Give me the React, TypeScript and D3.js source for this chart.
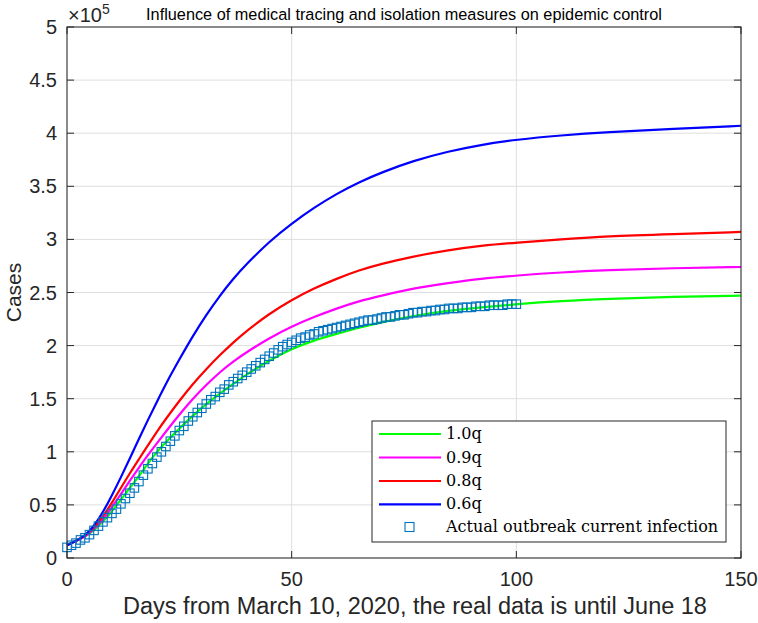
import React from "react";
import * as d3 from "d3";

// ---- Data (cases in units of 1e5) ----
const seriesNames = ["1.0q", "0.9q", "0.8q", "0.6q"];
const seriesColors = ["#00ff00", "#ff00ff", "#ff0000", "#0000ff"];

const modelDays = [0, 2, 4, 6, 8, 10, 12, 14, 16, 18, 20, 22, 25, 28, 31, 34, 37, 40, 45, 50, 55, 60, 65, 70, 77, 85, 92, 100, 110, 120, 135, 150];
const green = [0.12, 0.16, 0.20, 0.26, 0.34, 0.44, 0.55, 0.66, 0.77, 0.89, 1.00, 1.09, 1.22, 1.34, 1.45, 1.55, 1.64, 1.73, 1.86, 1.97, 2.05, 2.11, 2.17, 2.22, 2.28, 2.33, 2.36, 2.39, 2.42, 2.44, 2.46, 2.47];
const magenta = [0.12, 0.16, 0.20, 0.27, 0.36, 0.48, 0.60, 0.73, 0.85, 0.97, 1.08, 1.19, 1.35, 1.50, 1.63, 1.75, 1.85, 1.94, 2.07, 2.18, 2.27, 2.35, 2.42, 2.47, 2.54, 2.59, 2.63, 2.66, 2.69, 2.71, 2.73, 2.74];
const red = [0.12, 0.16, 0.21, 0.28, 0.39, 0.52, 0.66, 0.80, 0.93, 1.06, 1.19, 1.31, 1.48, 1.64, 1.78, 1.91, 2.03, 2.14, 2.30, 2.43, 2.54, 2.63, 2.71, 2.77, 2.84, 2.90, 2.94, 2.97, 3.00, 3.03, 3.05, 3.07];
const blue = [0.12, 0.16, 0.21, 0.30, 0.43, 0.59, 0.76, 0.94, 1.12, 1.30, 1.47, 1.64, 1.87, 2.09, 2.29, 2.47, 2.63, 2.77, 2.98, 3.15, 3.30, 3.43, 3.54, 3.63, 3.74, 3.83, 3.89, 3.94, 3.98, 4.01, 4.04, 4.07];

// actual observations, one per day from day 0 to day 100
const actual = [
  0.10, 0.12, 0.14, 0.17, 0.19, 0.22, 0.26, 0.30, 0.34, 0.38,
  0.42, 0.46, 0.51, 0.56, 0.61, 0.66, 0.72, 0.78, 0.84, 0.89,
  0.95, 1.00, 1.05, 1.10, 1.15, 1.20, 1.24, 1.29, 1.33, 1.37,
  1.41, 1.45, 1.49, 1.52, 1.56, 1.59, 1.63, 1.66, 1.69, 1.72,
  1.75, 1.78, 1.81, 1.84, 1.87, 1.90, 1.93, 1.96, 1.99, 2.01,
  2.03, 2.05, 2.07, 2.08, 2.10, 2.11, 2.13, 2.14, 2.15, 2.16,
  2.17, 2.18, 2.19, 2.20, 2.21, 2.22, 2.23, 2.24, 2.24, 2.25,
  2.26, 2.27, 2.27, 2.28, 2.29, 2.29, 2.30, 2.31, 2.31, 2.32,
  2.32, 2.33, 2.33, 2.34, 2.34, 2.35, 2.35, 2.35, 2.36, 2.36,
  2.36, 2.37, 2.37, 2.37, 2.38, 2.38, 2.38, 2.38, 2.39, 2.39,
  2.39,
];

const xTicks = [0, 50, 100, 150];
const yTicks = [0, 0.5, 1, 1.5, 2, 2.5, 3, 3.5, 4, 4.5, 5];

const titleText = "Influence of medical tracing and isolation measures on epidemic control";
const xLabel = "Days from March 10, 2020, the real data is until June 18";
const yLabel = "Cases";
const actualLabel = "Actual outbreak current infection";

export default function App() {
  const W = 758, H = 623;
  const L = 67, R = 741, T = 27, B = 558;
  const x = d3.scaleLinear().domain([0, 150]).range([L, R]);
  const y = d3.scaleLinear().domain([0, 5]).range([B, T]);
  const sans = "'Liberation Sans', Arial, Helvetica, sans-serif";
  const serif = "'DejaVu Serif', 'Liberation Serif', serif";
  const axisColor = "#262626";

  const series = [green, magenta, red, blue];
  const line = d3
    .line<[number, number]>()
    .x((d) => x(d[0]))
    .y((d) => y(d[1]))
    .curve(d3.curveBasis);

  const ms = 8.5;
  const tick = 7;
  const legX = 372, legY = 421, legW = 354, legH = 121;
  const rowY = [434, 457.5, 481, 504.3, 527];

  return (
    <svg width={W} height={H} style={{ position: "absolute", left: 0, top: 0, background: "#fff" }}>
      <rect x={0} y={0} width={W} height={H} fill="#fff" />
      {/* grid */}
      {xTicks.map((t) => (
        <line key={"gx" + t} x1={x(t)} x2={x(t)} y1={T} y2={B} stroke="#dfdfdf" strokeWidth={1} />
      ))}
      {yTicks.map((t) => (
        <line key={"gy" + t} x1={L} x2={R} y1={y(t)} y2={y(t)} stroke="#dfdfdf" strokeWidth={1} />
      ))}
      {/* curves */}
      {series.map((vals, i) => (
        <path
          key={"s" + i}
          d={line(modelDays.map((d, j) => [d, vals[j]] as [number, number])) || ""}
          fill="none"
          stroke={seriesColors[i]}
          strokeWidth={2.2}
        />
      ))}
      {/* actual data markers */}
      {actual.map((v, i) => (
        <rect
          key={"a" + i}
          x={x(i) - ms / 2}
          y={y(v) - ms / 2}
          width={ms}
          height={ms}
          fill="none"
          stroke="#0072BD"
          strokeWidth={1.1}
        />
      ))}
      {/* axes box */}
      <rect x={L} y={T} width={R - L} height={B - T} fill="none" stroke={axisColor} strokeWidth={1} />
      {xTicks.map((t) => (
        <g key={"tx" + t}>
          <line x1={x(t)} x2={x(t)} y1={B} y2={B - tick} stroke={axisColor} />
          <line x1={x(t)} x2={x(t)} y1={T} y2={T + tick} stroke={axisColor} />
          <text x={x(t)} y={586} textAnchor="middle" fontFamily={sans} fontSize={20} fill={axisColor}>
            {t}
          </text>
        </g>
      ))}
      {yTicks.map((t) => (
        <g key={"ty" + t}>
          <line x1={L} x2={L + tick} y1={y(t)} y2={y(t)} stroke={axisColor} />
          <line x1={R} x2={R - tick} y1={y(t)} y2={y(t)} stroke={axisColor} />
          <text x={57} y={y(t) + 7} textAnchor="end" fontFamily={sans} fontSize={20} fill={axisColor}>
            {t}
          </text>
        </g>
      ))}
      {/* exponent */}
      <text x={68} y={22} fontFamily={sans} fontSize={20} fill={axisColor}>
        ×10
        <tspan dy={-8} fontSize={14}>5</tspan>
      </text>
      {/* title */}
      <text x={404} y={20} textAnchor="middle" fontFamily={sans} fontSize={16.3} fill="#000">
        {titleText}
      </text>
      {/* labels */}
      <text x={415} y={614} textAnchor="middle" fontFamily={sans} fontSize={23.5} fill={axisColor}>
        {xLabel}
      </text>
      <text
        transform={`translate(21, ${(T + B) / 2}) rotate(-90)`}
        textAnchor="middle"
        fontFamily={sans}
        fontSize={21}
        fill={axisColor}
      >
        {yLabel}
      </text>
      {/* legend */}
      <rect x={legX} y={legY} width={legW} height={legH} fill="#fff" stroke={axisColor} strokeWidth={1} />
      {seriesNames.map((n, i) => (
        <g key={"l" + i}>
          <line x1={379} x2={441} y1={rowY[i]} y2={rowY[i]} stroke={seriesColors[i]} strokeWidth={2.2} />
          <text x={446} y={rowY[i] + 5} fontFamily={serif} fontSize={16} fill="#000">
            {n}
          </text>
        </g>
      ))}
      <rect x={409.5 - 4.5} y={rowY[4] - 4.5} width={9} height={9} fill="none" stroke="#0072BD" strokeWidth={1.1} />
      <text x={446} y={rowY[4] + 5} fontFamily={serif} fontSize={16} fill="#000">
        {actualLabel}
      </text>
    </svg>
  );
}
